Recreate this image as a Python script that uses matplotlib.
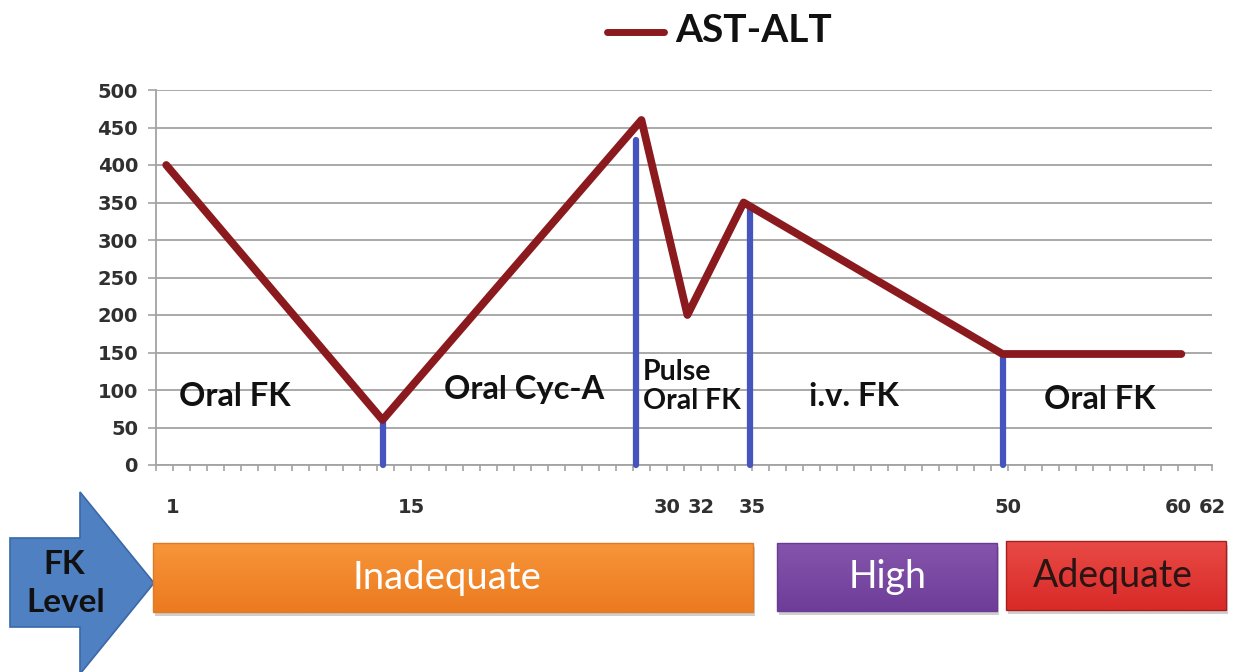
import numpy as np
import matplotlib
matplotlib.use("Agg")
import matplotlib.pyplot as plt
from matplotlib.patches import Polygon, Rectangle
from matplotlib.lines import Line2D

# ---- data ----
day = [0.6, 13.3, 28.5, 31.2, 34.5, 49.7, 60.2]
ast_alt = [400, 60, 460, 200, 350, 148, 148]
switch_day = [13.3, 28.2, 34.9, 49.7]
switch_top = [58, 433, 342, 146]
x_tick_vals = [1, 15, 30, 32, 35, 50, 60, 62]
x_tick_labels = ["1", "15", "30", "32", "35", "50", "60", "62"]
y_ticks = [0, 50, 100, 150, 200, 250, 300, 350, 400, 450, 500]
phase_labels = ["Oral FK", "Oral Cyc-A", "Pulse\nOral FK", "i.v. FK", "Oral FK"]
level_labels = ["Inadequate", "High", "Adequate"]
series_name = "AST-ALT"

FONT = ["Lato", "DejaVu Sans"]
TICKFONT = ["DejaVu Sans"]
plt.rcParams['font.family'] = FONT

W, H = 1239, 672
fig = plt.figure(figsize=(W / 100, H / 100), dpi=100)

# main chart axes (pixel layout: x 156..1212, y 90..465)
ax = fig.add_axes([156 / W, (H - 465) / H, (1212 - 156) / W, (465 - 90) / H])
ax.set_xlim(0, 62)
ax.set_ylim(0, 500)
ax.set_yticks(y_ticks)
ax.yaxis.grid(True, color="#a3a3a3", linewidth=1.3)
ax.set_axisbelow(True)
for s in ["top", "right"]:
    ax.spines[s].set_visible(False)
for s in ["left", "bottom"]:
    ax.spines[s].set_color("#a3a3a3")
    ax.spines[s].set_linewidth(1.3)

ax.set_xticks(x_tick_vals)
ax.set_xticklabels(x_tick_labels)
ax.set_xticks(np.arange(0, 63, 1), minor=True)
ax.tick_params(axis="x", which="both", direction="out", length=4, width=1.2,
               color="#a3a3a3")
ax.tick_params(axis="x", which="major", pad=20, labelsize=14, labelcolor="#303030")
ax.tick_params(axis="y", which="major", direction="out", length=6, width=1.2,
               color="#a3a3a3", pad=7, labelsize=14, labelcolor="#303030")
for lab in ax.get_xticklabels() + ax.get_yticklabels():
    lab.set_fontweight("bold")
    lab.set_family(TICKFONT)

# blue switch markers
for xd, top in zip(switch_day, switch_top):
    ax.plot([xd, xd], [0, top], color="#4655bd", linewidth=4.5,
            solid_capstyle="round", clip_on=False, zorder=3)

# AST-ALT line
ax.plot(day, ast_alt, color="#8b1a1e", linewidth=5.6, solid_joinstyle="round",
        solid_capstyle="round", zorder=4, clip_on=False)

# phase annotations
ax.text(4.6, 91, phase_labels[0], fontsize=23.5, fontweight="bold", ha="center",
        va="center", color="#111111")
ax.text(21.6, 100, phase_labels[1], fontsize=23.5, fontweight="bold", ha="center",
        va="center", color="#111111")
ax.text(28.6, 105, phase_labels[2], fontsize=20.5, fontweight="bold", ha="left",
        va="center", color="#111111", linespacing=1.15)
ax.text(41.0, 91, phase_labels[3], fontsize=23.5, fontweight="bold", ha="center",
        va="center", color="#111111")
ax.text(55.4, 87, phase_labels[4], fontsize=23.5, fontweight="bold", ha="center",
        va="center", color="#111111")

# overlay axes in pixel coordinates for legend & FK level band
ov = fig.add_axes([0, 0, 1, 1], zorder=-1)
ov.set_xlim(0, W)
ov.set_ylim(H, 0)
ov.axis("off")

# legend at top
ov.add_line(Line2D([607, 664], [32, 32], color="#8b1a1e", linewidth=5,
                   solid_capstyle="round"))
ov.text(675, 31, series_name, fontsize=28, fontweight="bold", ha="left",
        va="center", color="#111111")

# blue arrow
arrow = Polygon([(10, 538), (80, 538), (80, 492), (154, 583), (80, 674),
                 (80, 627), (10, 627)], closed=True, facecolor="#4f80c2",
                edgecolor="#3a68a8", linewidth=1.2)
ov.add_patch(arrow)
ov.text(64, 565, "FK", fontsize=24, fontweight="bold", ha="center",
        va="center", color="#111111")
ov.text(66, 603, "Level", fontsize=24, fontweight="bold", ha="center",
        va="center", color="#111111")


def grad_box(x0, x1, y0, y1, c_top, c_bot, edge):
    # shadow
    ov.add_patch(Rectangle((x0 + 2, y0 + 4), x1 - x0, y1 - y0,
                           facecolor="#cfcfcf", edgecolor="none", zorder=1))
    top = np.array(matplotlib.colors.to_rgb(c_top))
    bot = np.array(matplotlib.colors.to_rgb(c_bot))
    t = np.linspace(0, 1, 64)[:, None]
    img = (top[None, :] * (1 - t) + bot[None, :] * t)[:, None, :]
    ov.imshow(img, extent=(x0, x1, y1, y0), aspect="auto", zorder=2,
              interpolation="bilinear")
    ov.add_patch(Rectangle((x0, y0), x1 - x0, y1 - y0, facecolor="none",
                           edgecolor=edge, linewidth=1.0, zorder=3))


grad_box(153, 753, 543, 612, "#f7953a", "#ec7a1f", "#e07a25")
grad_box(777, 997, 543, 611, "#8555ad", "#6e3d98", "#6a3a94")
grad_box(1006, 1226, 541, 610, "#e84a45", "#d92a28", "#a81e1e")
ov.set_xlim(0, W)
ov.set_ylim(H, 0)

ov.text(447, 578, level_labels[0], fontsize=27.5, color="white", ha="center",
        va="center", zorder=5)
ov.text(888, 577, level_labels[1], fontsize=27, color="white", ha="center",
        va="center", zorder=5)
ov.text(1113, 576, level_labels[2], fontsize=27, color="#2a1414", ha="center",
        va="center", zorder=5)

fig.savefig("out.png", dpi=100)
